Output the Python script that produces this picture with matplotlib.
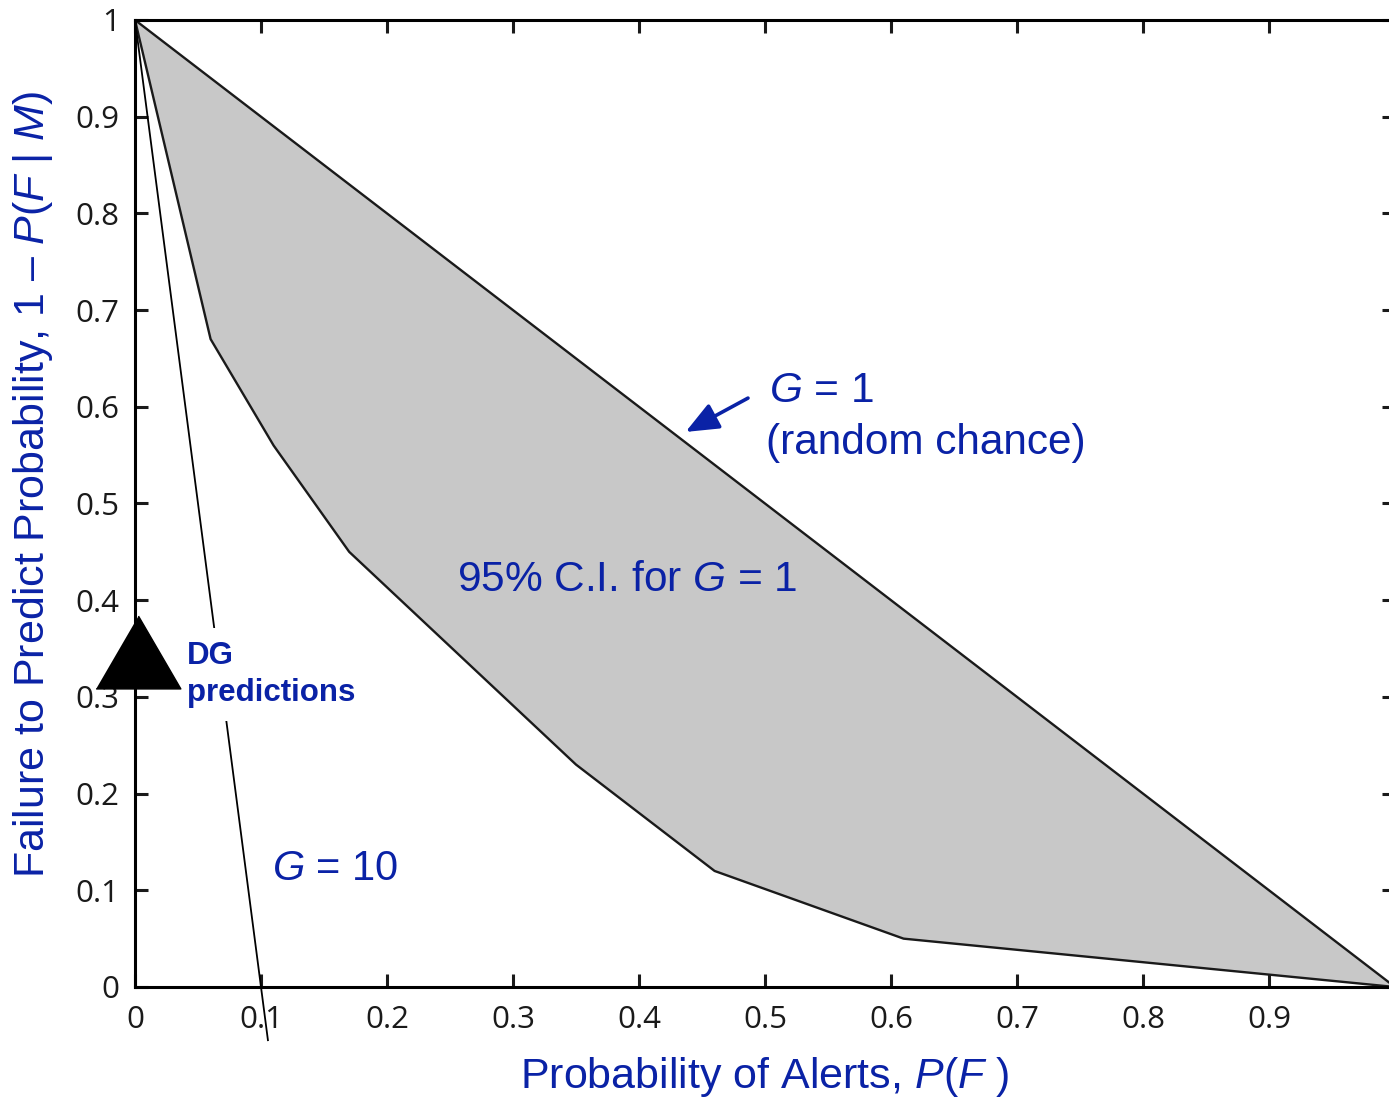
import matplotlib
matplotlib.use("Agg")
import matplotlib.pyplot as plt
import numpy as np

# ---- data ----
ci_x = [0.0, 0.06, 0.11, 0.17, 0.35, 0.46, 0.61, 1.0]
ci_lower = [1.0, 0.67, 0.56, 0.45, 0.23, 0.12, 0.05, 0.0]
g1_x = [0.0, 1.0]
g1_y = [1.0, 0.0]
g10_x = [0.0, 0.1055]
g10_y = [1.0, -0.055]
dg_x = [0.002]
dg_y = [0.346]
xticks = [0, 0.1, 0.2, 0.3, 0.4, 0.5, 0.6, 0.7, 0.8, 0.9, 1.0]
xticklabels = ["0", "0.1", "0.2", "0.3", "0.4", "0.5", "0.6", "0.7", "0.8", "0.9", ""]
yticks = [0, 0.1, 0.2, 0.3, 0.4, 0.5, 0.6, 0.7, 0.8, 0.9, 1.0]
yticklabels = ["0", "0.1", "0.2", "0.3", "0.4", "0.5", "0.6", "0.7", "0.8", "0.9", "1"]

BLUE = "#0a22a6"

plt.rcParams["mathtext.fontset"] = "custom"
plt.rcParams["mathtext.rm"] = "Liberation Sans"
plt.rcParams["mathtext.it"] = "Liberation Sans:italic"
plt.rcParams["mathtext.bf"] = "Liberation Sans:bold"

fig = plt.figure(figsize=(13.89, 11.0), dpi=100)
ax = fig.add_axes([135/1389, 1 - 987/1100, 1260/1389, 967/1100])

# CI band
upper_interp = np.interp(ci_x, g1_x, g1_y)
ax.fill_between(ci_x, ci_lower, upper_interp, facecolor="#c8c8c8", edgecolor="none", zorder=1)
ax.plot(ci_x, ci_lower, color="#1a1a1a", lw=1.7, zorder=2)
ax.plot(g1_x, g1_y, color="#1a1a1a", lw=1.7, zorder=2)

# G = 10 line
ax.plot(g10_x, g10_y, color="black", lw=1.3, clip_on=False, zorder=2)

# DG prediction marker (custom triangle)
tri = [(-1.0, -0.86), (1.0, -0.86), (0.0, 0.86)]
ax.plot(dg_x, dg_y, linestyle="none", marker=tri, markersize=61, color="black",
        clip_on=False, zorder=6)

ax.text(0.0413, 0.323, "DG\npredictions", color=BLUE, fontsize=22.5, fontweight="bold",
        family="Liberation Sans", ha="left", va="center", linespacing=1.32, zorder=5,
        bbox=dict(boxstyle="square,pad=0.4", facecolor="white", edgecolor="none"))

ax.text(0.3905, 0.421, "95% C.I. for $\\mathit{G}$ = 1", color=BLUE, fontsize=30.5,
        family="Liberation Sans", ha="center", va="center")
ax.text(0.1085, 0.122, "$\\mathit{G}$ = 10", color=BLUE, fontsize=30,
        family="Liberation Sans", ha="left", va="center")
ax.text(0.503, 0.616, "$\\mathit{G}$ = 1", color=BLUE, fontsize=30.5,
        family="Liberation Sans", ha="left", va="center")
ax.text(0.501, 0.563, "(random chance)", color=BLUE, fontsize=30.5,
        family="Liberation Sans", ha="left", va="center")
ax.annotate("", xy=(0.437, 0.574), xytext=(0.4865, 0.609),
            arrowprops=dict(arrowstyle="-|>,head_length=1.0,head_width=0.42",
                            color=BLUE, lw=2.6, mutation_scale=20, shrinkA=0, shrinkB=0))

ax.set_xlim(0, 1)
ax.set_ylim(0, 1)
ax.set_xticks(xticks)
ax.set_xticklabels(xticklabels)
ax.set_yticks(yticks)
ax.set_yticklabels(yticklabels)
ax.tick_params(direction="in", length=9.5, width=2.2, top=True, right=True,
               labelsize=22.5, colors="#1a1a1a")
ax.tick_params(axis="x", pad=13)
ax.tick_params(axis="y", pad=11)
for lab in ax.get_xticklabels() + ax.get_yticklabels():
    lab.set_family("Open Sans")
for sp in ax.spines.values():
    sp.set_linewidth(2.2)
    sp.set_color("black")

ax.set_xlabel("Probability of Alerts, $\\mathit{P}$($\\mathit{F}$ )", fontsize=31,
              color=BLUE, family="Liberation Sans")
ax.set_ylabel("Failure to Predict Probability, 1 \u2013 $\\mathit{P}$($\\mathit{F}$ | $\\mathit{M}$)",
              fontsize=31, color=BLUE, family="Liberation Sans")
ax.yaxis.label.set_va("center")
ax.xaxis.label.set_va("center")
ax.yaxis.set_label_coords(-0.081, 0.52)
ax.xaxis.set_label_coords(0.5, -0.093)

fig.savefig("out.png", dpi=100)
